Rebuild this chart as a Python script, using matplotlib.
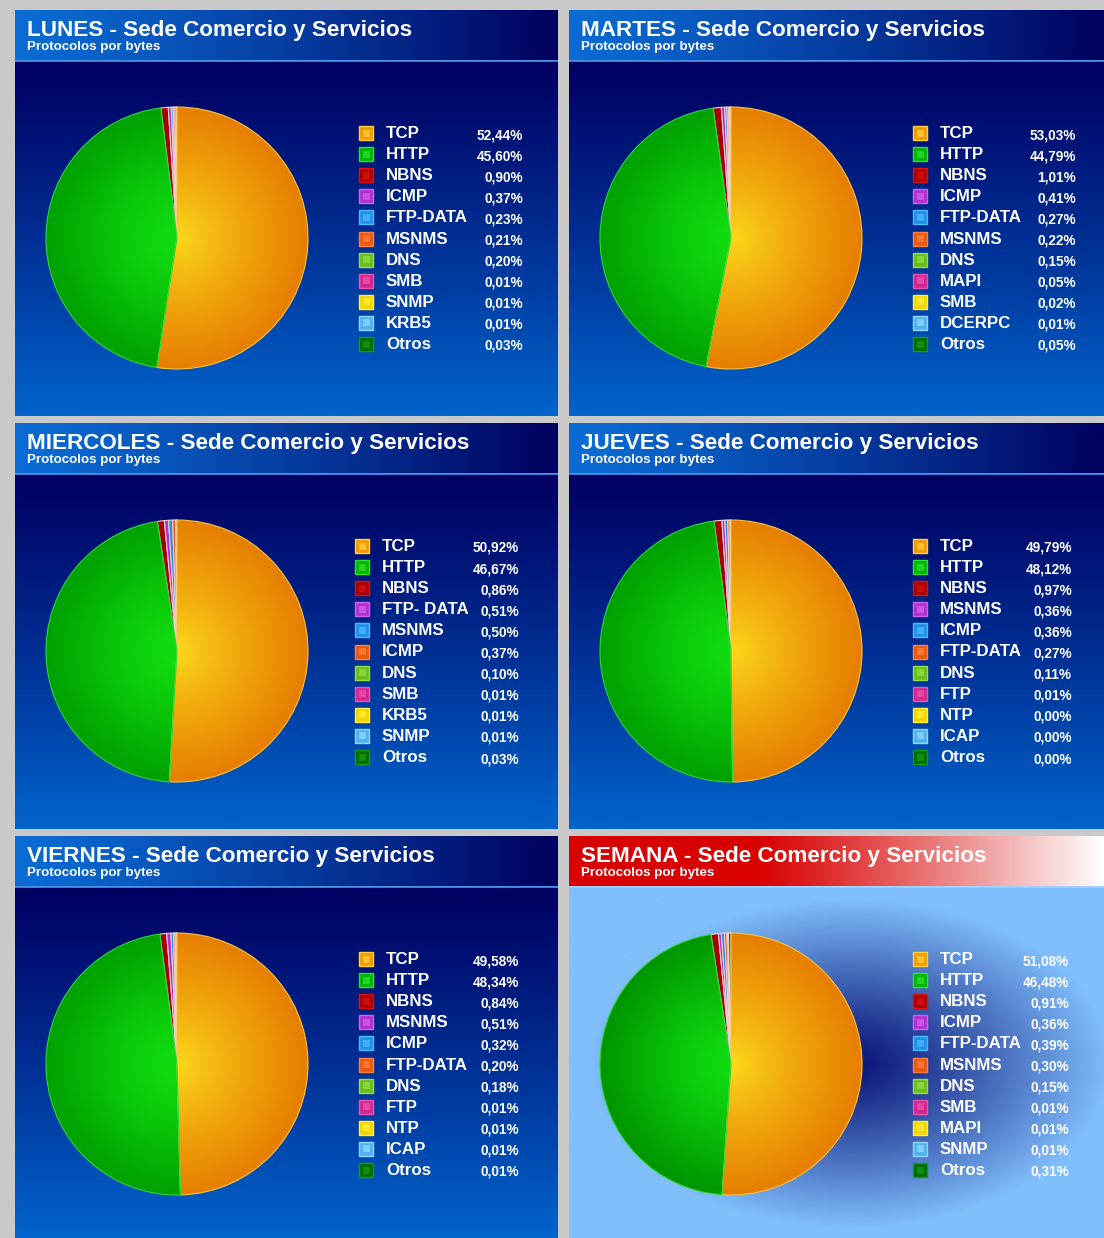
import numpy as np
import matplotlib
matplotlib.use("Agg")
import matplotlib.pyplot as plt
from matplotlib.patches import Rectangle
from matplotlib.colors import to_rgb

# ---- data: protocol share by bytes (%) per day ----
lunes_labels = ["TCP", "HTTP", "NBNS", "ICMP", "FTP-DATA", "MSNMS", "DNS", "SMB", "SNMP", "KRB5", "Otros"]
lunes_vals = [52.44, 45.60, 0.90, 0.37, 0.23, 0.21, 0.20, 0.01, 0.01, 0.01, 0.03]

martes_labels = ["TCP", "HTTP", "NBNS", "ICMP", "FTP-DATA", "MSNMS", "DNS", "MAPI", "SMB", "DCERPC", "Otros"]
martes_vals = [53.03, 44.79, 1.01, 0.41, 0.27, 0.22, 0.15, 0.05, 0.02, 0.01, 0.05]

miercoles_labels = ["TCP", "HTTP", "NBNS", "FTP- DATA", "MSNMS", "ICMP", "DNS", "SMB", "KRB5", "SNMP", "Otros"]
miercoles_vals = [50.92, 46.67, 0.86, 0.51, 0.50, 0.37, 0.10, 0.01, 0.01, 0.01, 0.03]

jueves_labels = ["TCP", "HTTP", "NBNS", "MSNMS", "ICMP", "FTP-DATA", "DNS", "FTP", "NTP", "ICAP", "Otros"]
jueves_vals = [49.79, 48.12, 0.97, 0.36, 0.36, 0.27, 0.11, 0.01, 0.00, 0.00, 0.00]

viernes_labels = ["TCP", "HTTP", "NBNS", "MSNMS", "ICMP", "FTP-DATA", "DNS", "FTP", "NTP", "ICAP", "Otros"]
viernes_vals = [49.58, 48.34, 0.84, 0.51, 0.32, 0.20, 0.18, 0.01, 0.01, 0.01, 0.01]

semana_labels = ["TCP", "HTTP", "NBNS", "ICMP", "FTP-DATA", "MSNMS", "DNS", "SMB", "MAPI", "SNMP", "Otros"]
semana_vals = [51.08, 46.48, 0.91, 0.36, 0.39, 0.30, 0.15, 0.01, 0.01, 0.01, 0.31]

titles = ["LUNES", "MARTES", "MIERCOLES", "JUEVES", "VIERNES", "SEMANA"]
subtitle = "Protocolos por bytes"
site = " - Sede Comercio y Servicios"

# slice colours by position (base, highlight)
slice_colors = ["#ee9a00", "#00b400", "#a80000", "#b030d0", "#2090e8", "#e85a10",
                "#6cbc20", "#d02890", "#f4d400", "#50b0f0", "#006a00"]
slice_hi = ["#ffd040", "#30e030", "#e01010", "#d060f0", "#50b8ff", "#ff8040",
            "#90e040", "#f050b0", "#fff040", "#90d8ff", "#10a010"]

W, H = 1104, 1238
FONT = "Liberation Sans"

fig = plt.figure(figsize=(W / 100, H / 100), dpi=100)
fig.patch.set_facecolor("#c9c9c9")

bg = fig.add_axes([0, 0, 1, 1])
bg.set_xlim(0, W)
bg.set_ylim(H, 0)
bg.axis("off")


def lerp_img(c0, c1, t):
    c0 = np.array(to_rgb(c0))
    c1 = np.array(to_rgb(c1))
    return c0[None, None, :] * (1 - t[..., None]) + c1[None, None, :] * t[..., None]


def put_img(img, x0, x1, y0, y1, z=1):
    bg.imshow(img, extent=(x0, x1, y1, y0), origin="upper", aspect="auto",
              interpolation="bilinear", zorder=z)


# panel frames
cols = [(15, 558), (569, 1104)]
rows = [(10, 416), (423, 829), (836, 1238)]
HEAD = 50

panels = [
    (lunes_labels, lunes_vals),
    (martes_labels, martes_vals),
    (miercoles_labels, miercoles_vals),
    (jueves_labels, jueves_vals),
    (viernes_labels, viernes_vals),
    (semana_labels, semana_vals),
]

# legend layout per panel: marker x offset, label x offset, value right offset
leg_layout = [
    (351, 371, 508),
    (351, 371, 507),
    (347, 367, 504),
    (351, 371, 503),
    (351, 371, 504),
    (351, 371, 500),
]

R = 131
for i, (labels, vals) in enumerate(panels):
    c, r = i % 2, i // 2
    x0, x1 = cols[c]
    y0, y1 = rows[r]
    hy = y0 + HEAD
    week = (i == 5)

    # header band
    tx = np.linspace(0, 1, 400)[None, :].repeat(2, axis=0)
    if week:
        t = np.clip((tx - 0.35) / 0.65, 0, 1) ** 1.1
        put_img(lerp_img("#d80000", "#ffffff", t), x0, x1, y0, hy)
    else:
        put_img(lerp_img("#0a6cd4", "#00005e", tx ** 1.2), x0, x1, y0, hy)
    bg.plot([x0, x1], [hy + 0.5, hy + 0.5], color="#3c8ce8" if not week else "#9fd0ff",
            lw=1.3, zorder=3, solid_capstyle="butt")

    # body
    if week:
        yy, xx = np.mgrid[hy:y1:2.0, x0:x1:2.0]
        gx, gy = 850, 1062
        d = np.sqrt(((xx - gx) / 260.0) ** 2 + ((yy - gy) / 165.0) ** 2)
        t = np.clip(d, 0, 1)
        t = t ** 1.15
        img = lerp_img("#0a1678", "#80befc", t)
        put_img(img, x0, x1, hy + 1, y1)
    else:
        ty = np.linspace(0, 1, 300)[:, None].repeat(2, axis=1)
        put_img(lerp_img("#000062", "#0064cc", ty ** 1.1), x0, x1, hy + 1, y1)

    # titles
    bg.text(x0 + 12, y0 + 26, titles[i] + site, color="white", fontsize=16.2,
            fontweight="bold", family=FONT, va="baseline", ha="left", zorder=5)
    bg.text(x0 + 12, y0 + 40, subtitle, color="white", fontsize=9.6,
            fontweight="bold", family=FONT, va="baseline", ha="left", zorder=5)

    # pie
    cx, cy = x0 + 162, y0 + 228
    pad = 3
    ax = fig.add_axes([(cx - R - pad) / W, 1 - (cy + R + pad) / H,
                       (2 * R + 2 * pad) / W, (2 * R + 2 * pad) / H])
    ax.axis("off")
    edge_cols = ["#f6c440", "#30d830"] + ["#f0d0d0"] * 9
    wedges, _ = ax.pie(vals, colors=slice_colors, startangle=90, counterclock=False,
                       radius=1.0, wedgeprops=dict(linewidth=0.8))
    for k, w in enumerate(wedges):
        w.set_edgecolor(edge_cols[k])
    # radial shading for the two main slices
    gy_, gx_ = np.mgrid[-1:1:300j, -1:1:300j]
    rr = np.clip(np.sqrt(gx_ ** 2 + gy_ ** 2), 0, 1)
    shade = [("#fcdc1c", "#e67e00", 0.8), ("#10dc10", "#00a000" if not week else "#009400", 1.3)]
    for k in range(2):
        c_in, c_out, p = shade[k]
        im = ax.imshow(lerp_img(c_in, c_out, rr ** p), extent=(-1, 1, -1, 1),
                       origin="lower", interpolation="bilinear", zorder=2)
        im.set_clip_path(wedges[k])
        wedges[k].set_facecolor("none")
        wedges[k].set_zorder(3)
    lim = (R + pad) / R
    ax.set_xlim(-lim, lim)
    ax.set_ylim(-lim, lim)
    ax.set_aspect("equal")

    # legend
    mx, lx, vx = leg_layout[i]
    ly0 = y0 + 123
    step = 21.1
    for k, (lab, v) in enumerate(zip(labels, vals)):
        yk = ly0 + k * step
        bx = x0 + mx
        bg.add_patch(Rectangle((bx - 7, yk - 7), 14, 14, facecolor=slice_colors[k],
                               edgecolor=slice_hi[k], lw=1.0, zorder=6))
        bg.add_patch(Rectangle((bx - 3.5, yk - 3.5), 7, 7, facecolor=slice_hi[k],
                               edgecolor="none", alpha=0.75, zorder=7))
        bg.text(x0 + lx, yk + 0.5, lab, color="white", fontsize=12.2, fontweight="bold",
                family=FONT, va="center", ha="left", zorder=6)
        bg.text(x0 + vx, yk + 2, f"{v:.2f}".replace(".", ",") + "%", color="white",
                fontsize=9.8, fontweight="bold", family=FONT, va="center", ha="right", zorder=6)

bg.set_xlim(0, W)
bg.set_ylim(H, 0)
fig.savefig("out.png", dpi=100, facecolor=fig.get_facecolor())
